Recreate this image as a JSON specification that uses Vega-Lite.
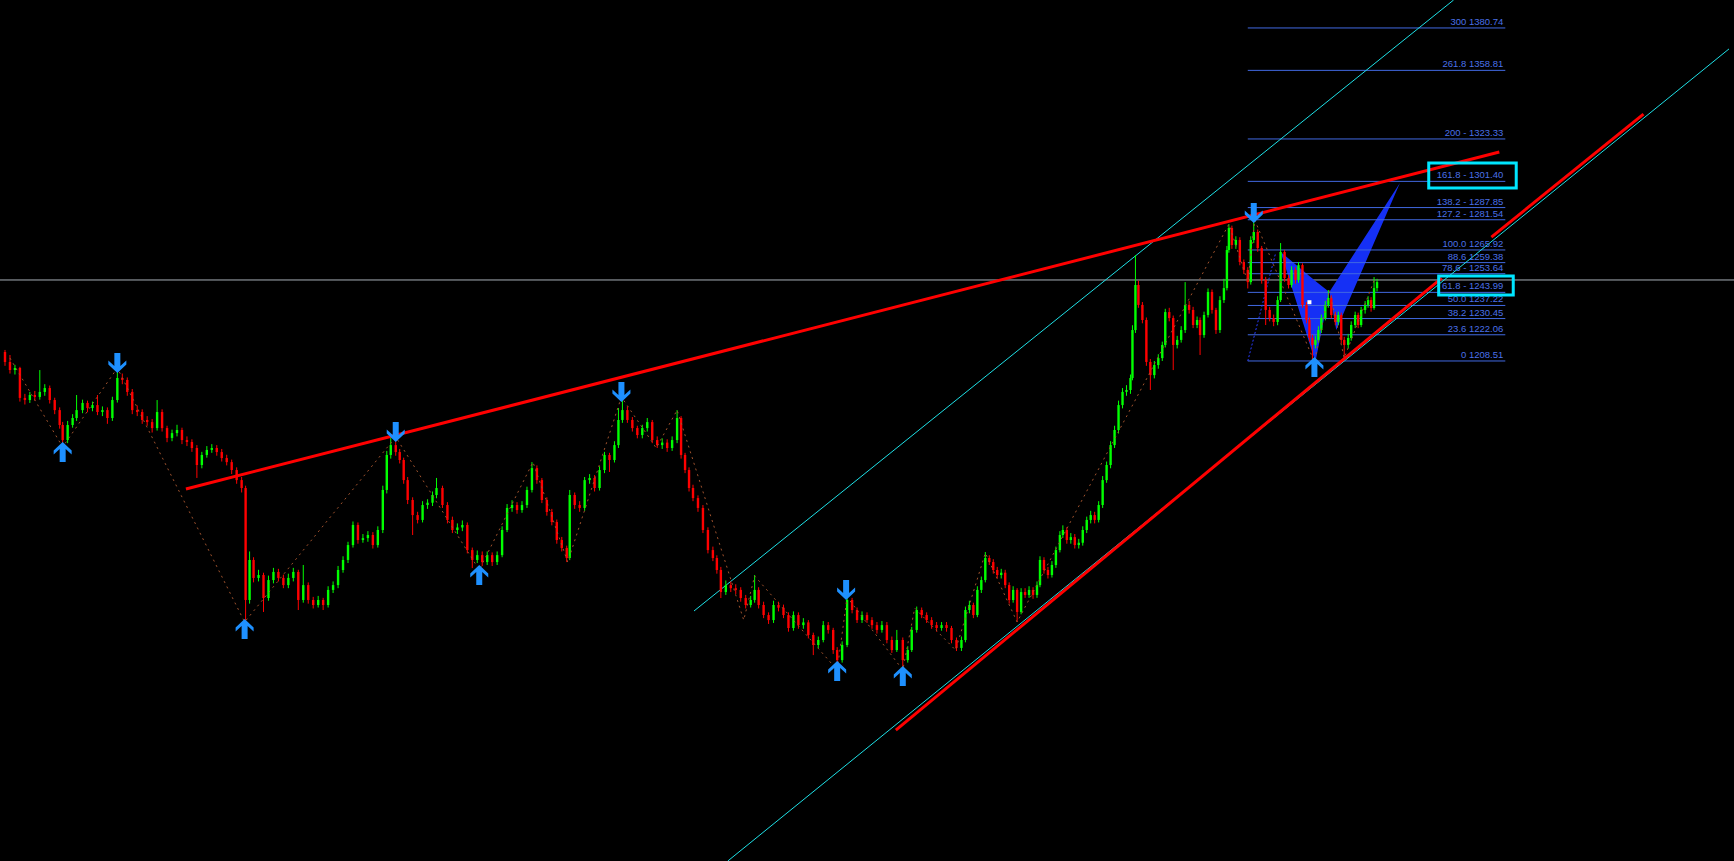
{
"$schema":"https://vega.github.io/schema/vega-lite/v6.json",
"width":1734,"height":861,
"autosize":{"type":"none"},
"padding":0,
"background":"#000000",
"config":{"view":{"stroke":null},"axis":{"disable":true},"mark":{"clip":true}},
"datasets":{
"cd":[
{"t":0,"o":1213.2,"h":1214.2,"l":1206.0,"c":1208.0},
{"t":5,"o":1208.0,"h":1211.6,"l":1202.0,"c":1203.8},
{"t":10,"o":1203.8,"h":1206.5,"l":1201.5,"c":1204.9},
{"t":15,"o":1204.9,"h":1205.5,"l":1187.5,"c":1189.4},
{"t":20,"o":1189.4,"h":1191.5,"l":1186.0,"c":1188.3},
{"t":25,"o":1188.3,"h":1192.5,"l":1186.8,"c":1190.9},
{"t":30,"o":1190.9,"h":1193.0,"l":1188.0,"c":1189.9},
{"t":35,"o":1189.9,"h":1203.8,"l":1188.5,"c":1192.5},
{"t":40,"o":1192.5,"h":1196.5,"l":1190.5,"c":1194.5},
{"t":45,"o":1194.5,"h":1195.8,"l":1186.5,"c":1188.3},
{"t":50,"o":1188.3,"h":1189.5,"l":1181.0,"c":1183.1},
{"t":55,"o":1183.1,"h":1184.5,"l":1173.5,"c":1175.4},
{"t":58,"o":1175.4,"h":1177.0,"l":1164.0,"c":1167.6},
{"t":63,"o":1167.6,"h":1177.5,"l":1166.0,"c":1175.4},
{"t":68,"o":1175.4,"h":1181.0,"l":1174.0,"c":1179.0},
{"t":72,"o":1179.0,"h":1190.9,"l":1177.5,"c":1183.1},
{"t":78,"o":1183.1,"h":1188.5,"l":1181.5,"c":1186.8},
{"t":83,"o":1186.8,"h":1188.0,"l":1182.0,"c":1184.2},
{"t":88,"o":1184.2,"h":1187.5,"l":1182.5,"c":1185.7},
{"t":93,"o":1185.7,"h":1190.9,"l":1180.5,"c":1182.1},
{"t":98,"o":1182.1,"h":1185.0,"l":1180.0,"c":1183.1},
{"t":103,"o":1183.1,"h":1184.5,"l":1176.0,"c":1179.0},
{"t":108,"o":1179.0,"h":1190.0,"l":1177.5,"c":1188.3},
{"t":113,"o":1188.3,"h":1204.9,"l":1187.0,"c":1199.7},
{"t":118,"o":1199.7,"h":1202.0,"l":1196.5,"c":1198.7},
{"t":123,"o":1198.7,"h":1200.0,"l":1190.5,"c":1192.5},
{"t":128,"o":1192.5,"h":1194.0,"l":1181.0,"c":1183.1},
{"t":133,"o":1183.1,"h":1185.5,"l":1180.0,"c":1182.1},
{"t":138,"o":1182.1,"h":1183.5,"l":1176.0,"c":1178.0},
{"t":143,"o":1178.0,"h":1180.0,"l":1175.0,"c":1176.9},
{"t":148,"o":1176.9,"h":1178.5,"l":1171.5,"c":1173.8},
{"t":153,"o":1173.8,"h":1188.3,"l":1172.5,"c":1182.1},
{"t":158,"o":1182.1,"h":1183.5,"l":1172.0,"c":1173.8},
{"t":163,"o":1173.8,"h":1175.0,"l":1166.5,"c":1168.7},
{"t":168,"o":1168.7,"h":1173.0,"l":1167.0,"c":1171.2},
{"t":173,"o":1171.2,"h":1175.5,"l":1169.5,"c":1172.8},
{"t":178,"o":1172.8,"h":1174.0,"l":1165.5,"c":1167.6},
{"t":183,"o":1167.6,"h":1169.5,"l":1164.5,"c":1166.6},
{"t":188,"o":1166.6,"h":1168.0,"l":1161.5,"c":1163.5},
{"t":193,"o":1163.5,"h":1165.0,"l":1148.0,"c":1154.7},
{"t":198,"o":1154.7,"h":1161.5,"l":1153.0,"c":1159.9},
{"t":203,"o":1159.9,"h":1164.5,"l":1158.5,"c":1162.5},
{"t":208,"o":1162.5,"h":1165.5,"l":1161.0,"c":1163.5},
{"t":213,"o":1163.5,"h":1165.0,"l":1159.5,"c":1161.4},
{"t":218,"o":1161.4,"h":1163.0,"l":1156.5,"c":1158.3},
{"t":223,"o":1158.3,"h":1160.0,"l":1154.5,"c":1156.2},
{"t":228,"o":1156.2,"h":1157.5,"l":1150.0,"c":1152.1},
{"t":233,"o":1152.1,"h":1153.5,"l":1145.0,"c":1146.9},
{"t":238,"o":1146.9,"h":1148.5,"l":1140.5,"c":1142.8},
{"t":242,"o":1142.8,"h":1144.0,"l":1073.5,"c":1084.9},
{"t":246,"o":1084.9,"h":1110.0,"l":1083.0,"c":1105.6},
{"t":250,"o":1105.6,"h":1107.0,"l":1094.0,"c":1096.3},
{"t":255,"o":1096.3,"h":1100.5,"l":1094.5,"c":1097.8},
{"t":260,"o":1097.8,"h":1099.0,"l":1078.7,"c":1085.9},
{"t":265,"o":1085.9,"h":1097.5,"l":1084.5,"c":1095.2},
{"t":270,"o":1095.2,"h":1101.5,"l":1093.5,"c":1099.4},
{"t":275,"o":1099.4,"h":1101.0,"l":1094.5,"c":1096.3},
{"t":280,"o":1096.3,"h":1098.0,"l":1091.0,"c":1092.6},
{"t":285,"o":1092.6,"h":1098.5,"l":1091.0,"c":1096.3},
{"t":290,"o":1096.3,"h":1101.5,"l":1094.5,"c":1099.4},
{"t":295,"o":1099.4,"h":1100.5,"l":1079.7,"c":1084.9},
{"t":300,"o":1084.9,"h":1103.0,"l":1083.5,"c":1092.6},
{"t":305,"o":1092.6,"h":1094.0,"l":1083.0,"c":1084.9},
{"t":310,"o":1084.9,"h":1086.5,"l":1080.5,"c":1082.3},
{"t":315,"o":1082.3,"h":1087.0,"l":1081.0,"c":1084.9},
{"t":320,"o":1084.9,"h":1086.0,"l":1079.7,"c":1082.3},
{"t":325,"o":1082.3,"h":1092.0,"l":1081.0,"c":1090.1},
{"t":330,"o":1090.1,"h":1094.5,"l":1088.5,"c":1092.6},
{"t":335,"o":1092.6,"h":1102.5,"l":1091.0,"c":1100.4},
{"t":340,"o":1100.4,"h":1107.5,"l":1099.0,"c":1105.6},
{"t":345,"o":1105.6,"h":1115.0,"l":1104.0,"c":1113.3},
{"t":350,"o":1113.3,"h":1125.5,"l":1112.0,"c":1123.7},
{"t":355,"o":1123.7,"h":1125.0,"l":1114.0,"c":1115.9},
{"t":360,"o":1115.9,"h":1119.0,"l":1114.5,"c":1116.9},
{"t":365,"o":1116.9,"h":1120.5,"l":1115.0,"c":1118.5},
{"t":370,"o":1118.5,"h":1120.0,"l":1111.5,"c":1113.3},
{"t":375,"o":1113.3,"h":1123.0,"l":1112.0,"c":1121.1},
{"t":380,"o":1121.1,"h":1144.0,"l":1119.5,"c":1141.8},
{"t":384,"o":1141.8,"h":1162.0,"l":1140.0,"c":1159.9},
{"t":388,"o":1159.9,"h":1169.2,"l":1158.0,"c":1165.0},
{"t":393,"o":1165.0,"h":1167.0,"l":1159.5,"c":1161.4},
{"t":397,"o":1161.4,"h":1163.0,"l":1155.5,"c":1157.3},
{"t":401,"o":1157.3,"h":1158.5,"l":1145.0,"c":1146.9},
{"t":405,"o":1146.9,"h":1148.5,"l":1134.5,"c":1136.6},
{"t":410,"o":1136.6,"h":1138.0,"l":1118.5,"c":1128.8},
{"t":415,"o":1128.8,"h":1130.5,"l":1124.5,"c":1126.3},
{"t":420,"o":1126.3,"h":1136.0,"l":1125.0,"c":1134.0},
{"t":425,"o":1134.0,"h":1137.0,"l":1132.0,"c":1135.2},
{"t":430,"o":1135.2,"h":1141.0,"l":1133.5,"c":1139.2},
{"t":434,"o":1139.2,"h":1148.0,"l":1137.5,"c":1142.8},
{"t":440,"o":1142.8,"h":1144.0,"l":1132.5,"c":1134.0},
{"t":445,"o":1134.0,"h":1135.5,"l":1124.5,"c":1126.3},
{"t":450,"o":1126.3,"h":1128.0,"l":1119.5,"c":1121.1},
{"t":455,"o":1121.1,"h":1124.5,"l":1119.0,"c":1122.4},
{"t":460,"o":1122.4,"h":1126.0,"l":1120.5,"c":1123.7},
{"t":465,"o":1123.7,"h":1125.0,"l":1109.0,"c":1110.7},
{"t":470,"o":1110.7,"h":1112.0,"l":1101.4,"c":1105.6},
{"t":475,"o":1105.6,"h":1110.5,"l":1104.0,"c":1108.1},
{"t":480,"o":1108.1,"h":1110.0,"l":1102.5,"c":1104.5},
{"t":485,"o":1104.5,"h":1110.0,"l":1103.0,"c":1108.1},
{"t":490,"o":1108.1,"h":1109.5,"l":1102.5,"c":1104.5},
{"t":495,"o":1104.5,"h":1110.0,"l":1103.0,"c":1108.1},
{"t":500,"o":1108.1,"h":1123.0,"l":1107.0,"c":1121.1},
{"t":505,"o":1121.1,"h":1134.5,"l":1120.0,"c":1132.5},
{"t":510,"o":1132.5,"h":1136.5,"l":1130.5,"c":1134.0},
{"t":515,"o":1134.0,"h":1135.5,"l":1129.5,"c":1131.4},
{"t":520,"o":1131.4,"h":1136.0,"l":1130.0,"c":1134.0},
{"t":525,"o":1134.0,"h":1143.5,"l":1132.5,"c":1141.8},
{"t":530,"o":1141.8,"h":1156.2,"l":1140.5,"c":1153.1},
{"t":535,"o":1153.1,"h":1154.5,"l":1145.0,"c":1146.9},
{"t":540,"o":1146.9,"h":1148.0,"l":1135.0,"c":1136.6},
{"t":545,"o":1136.6,"h":1138.0,"l":1128.5,"c":1130.4},
{"t":550,"o":1130.4,"h":1132.0,"l":1123.5,"c":1125.2},
{"t":555,"o":1125.2,"h":1126.5,"l":1114.0,"c":1115.9},
{"t":560,"o":1115.9,"h":1117.5,"l":1110.0,"c":1111.8},
{"t":565,"o":1111.8,"h":1113.0,"l":1104.5,"c":1106.6},
{"t":568,"o":1106.6,"h":1141.8,"l":1105.5,"c":1139.2},
{"t":573,"o":1139.2,"h":1140.5,"l":1132.0,"c":1134.0},
{"t":578,"o":1134.0,"h":1136.0,"l":1130.5,"c":1132.5},
{"t":583,"o":1132.5,"h":1148.5,"l":1131.0,"c":1146.9},
{"t":588,"o":1146.9,"h":1150.0,"l":1145.0,"c":1148.0},
{"t":593,"o":1148.0,"h":1149.5,"l":1141.0,"c":1142.8},
{"t":598,"o":1142.8,"h":1154.0,"l":1141.5,"c":1152.1},
{"t":603,"o":1152.1,"h":1161.5,"l":1150.5,"c":1159.9},
{"t":608,"o":1159.9,"h":1161.0,"l":1151.1,"c":1157.3},
{"t":613,"o":1157.3,"h":1167.0,"l":1156.0,"c":1165.0},
{"t":617,"o":1165.0,"h":1184.2,"l":1163.5,"c":1178.0},
{"t":621,"o":1178.0,"h":1189.4,"l":1176.5,"c":1183.1},
{"t":626,"o":1183.1,"h":1185.0,"l":1176.5,"c":1178.0},
{"t":631,"o":1178.0,"h":1179.5,"l":1172.0,"c":1173.8},
{"t":636,"o":1173.8,"h":1175.0,"l":1168.5,"c":1170.2},
{"t":641,"o":1170.2,"h":1175.5,"l":1168.5,"c":1173.8},
{"t":646,"o":1173.8,"h":1179.0,"l":1172.0,"c":1176.9},
{"t":651,"o":1176.9,"h":1178.0,"l":1166.0,"c":1167.6},
{"t":656,"o":1167.6,"h":1169.5,"l":1163.5,"c":1165.0},
{"t":661,"o":1165.0,"h":1168.5,"l":1163.0,"c":1166.3},
{"t":666,"o":1166.3,"h":1168.0,"l":1161.5,"c":1163.5},
{"t":671,"o":1163.5,"h":1169.5,"l":1162.0,"c":1167.6},
{"t":676,"o":1167.6,"h":1183.1,"l":1166.0,"c":1179.0},
{"t":680,"o":1179.0,"h":1180.0,"l":1158.0,"c":1159.9},
{"t":684,"o":1159.9,"h":1161.0,"l":1150.5,"c":1152.1},
{"t":688,"o":1152.1,"h":1153.5,"l":1141.0,"c":1142.8},
{"t":692,"o":1142.8,"h":1144.5,"l":1136.0,"c":1137.6},
{"t":697,"o":1137.6,"h":1139.0,"l":1130.5,"c":1132.5},
{"t":702,"o":1132.5,"h":1134.0,"l":1119.5,"c":1121.1},
{"t":707,"o":1121.1,"h":1122.5,"l":1109.0,"c":1110.7},
{"t":712,"o":1110.7,"h":1112.5,"l":1105.0,"c":1106.6},
{"t":716,"o":1106.6,"h":1108.0,"l":1098.5,"c":1100.4},
{"t":720,"o":1100.4,"h":1102.0,"l":1085.9,"c":1089.0},
{"t":725,"o":1089.0,"h":1095.0,"l":1087.5,"c":1092.6},
{"t":730,"o":1092.6,"h":1094.5,"l":1089.0,"c":1091.0},
{"t":735,"o":1091.0,"h":1093.0,"l":1088.0,"c":1090.1},
{"t":740,"o":1090.1,"h":1091.5,"l":1084.0,"c":1085.9},
{"t":745,"o":1085.9,"h":1087.5,"l":1080.5,"c":1082.3},
{"t":750,"o":1082.3,"h":1087.0,"l":1081.0,"c":1084.9},
{"t":754,"o":1084.9,"h":1097.8,"l":1083.5,"c":1090.1},
{"t":758,"o":1090.1,"h":1091.5,"l":1080.5,"c":1082.3},
{"t":763,"o":1082.3,"h":1084.0,"l":1075.5,"c":1077.1},
{"t":768,"o":1077.1,"h":1078.5,"l":1072.5,"c":1074.5},
{"t":773,"o":1074.5,"h":1084.5,"l":1073.0,"c":1082.3},
{"t":778,"o":1082.3,"h":1084.0,"l":1079.0,"c":1080.9},
{"t":783,"o":1080.9,"h":1082.5,"l":1075.5,"c":1077.1},
{"t":788,"o":1077.1,"h":1078.5,"l":1068.5,"c":1070.4},
{"t":793,"o":1070.4,"h":1079.0,"l":1069.0,"c":1077.1},
{"t":798,"o":1077.1,"h":1078.5,"l":1070.0,"c":1071.9},
{"t":803,"o":1071.9,"h":1075.5,"l":1070.0,"c":1073.3},
{"t":808,"o":1073.3,"h":1074.5,"l":1065.0,"c":1066.8},
{"t":813,"o":1066.8,"h":1068.0,"l":1056.4,"c":1061.6},
{"t":818,"o":1061.6,"h":1066.0,"l":1060.0,"c":1064.2},
{"t":823,"o":1064.2,"h":1074.0,"l":1063.0,"c":1071.9},
{"t":828,"o":1071.9,"h":1073.5,"l":1067.5,"c":1069.4},
{"t":833,"o":1069.4,"h":1070.5,"l":1057.0,"c":1059.0},
{"t":837,"o":1059.0,"h":1060.5,"l":1049.7,"c":1053.8},
{"t":842,"o":1053.8,"h":1063.5,"l":1052.5,"c":1061.6},
{"t":847,"o":1061.6,"h":1087.5,"l":1060.5,"c":1084.9},
{"t":852,"o":1084.9,"h":1086.0,"l":1078.0,"c":1079.7},
{"t":857,"o":1079.7,"h":1081.0,"l":1073.0,"c":1074.5},
{"t":862,"o":1074.5,"h":1079.0,"l":1073.0,"c":1077.1},
{"t":867,"o":1077.1,"h":1078.5,"l":1073.0,"c":1074.5},
{"t":872,"o":1074.5,"h":1076.0,"l":1070.0,"c":1071.9},
{"t":877,"o":1071.9,"h":1073.5,"l":1067.5,"c":1069.4},
{"t":882,"o":1069.4,"h":1074.0,"l":1068.0,"c":1071.9},
{"t":887,"o":1071.9,"h":1073.5,"l":1062.5,"c":1064.2},
{"t":892,"o":1064.2,"h":1066.0,"l":1057.5,"c":1059.0},
{"t":897,"o":1059.0,"h":1069.4,"l":1058.0,"c":1064.2},
{"t":903,"o":1064.2,"h":1065.5,"l":1049.7,"c":1053.8},
{"t":908,"o":1053.8,"h":1061.0,"l":1052.5,"c":1059.0},
{"t":912,"o":1059.0,"h":1071.0,"l":1058.0,"c":1069.4},
{"t":917,"o":1069.4,"h":1081.5,"l":1068.0,"c":1079.7},
{"t":922,"o":1079.7,"h":1081.0,"l":1075.5,"c":1077.1},
{"t":927,"o":1077.1,"h":1078.5,"l":1073.0,"c":1074.5},
{"t":932,"o":1074.5,"h":1076.0,"l":1070.0,"c":1071.9},
{"t":937,"o":1071.9,"h":1073.5,"l":1068.5,"c":1070.4},
{"t":942,"o":1070.4,"h":1073.5,"l":1069.0,"c":1071.9},
{"t":947,"o":1071.9,"h":1073.5,"l":1068.5,"c":1070.4},
{"t":952,"o":1070.4,"h":1071.5,"l":1062.5,"c":1064.2},
{"t":957,"o":1064.2,"h":1065.5,"l":1058.5,"c":1060.1},
{"t":962,"o":1060.1,"h":1066.0,"l":1058.5,"c":1064.2},
{"t":966,"o":1064.2,"h":1081.5,"l":1063.0,"c":1079.7},
{"t":970,"o":1079.7,"h":1084.5,"l":1078.0,"c":1082.3},
{"t":974,"o":1082.3,"h":1083.5,"l":1075.5,"c":1077.1},
{"t":978,"o":1077.1,"h":1092.0,"l":1076.0,"c":1090.1},
{"t":982,"o":1090.1,"h":1097.0,"l":1088.5,"c":1095.2},
{"t":986,"o":1095.2,"h":1109.7,"l":1094.0,"c":1106.6},
{"t":990,"o":1106.6,"h":1108.0,"l":1103.0,"c":1104.5},
{"t":994,"o":1104.5,"h":1106.0,"l":1098.5,"c":1100.4},
{"t":998,"o":1100.4,"h":1102.0,"l":1096.0,"c":1097.8},
{"t":1002,"o":1097.8,"h":1101.0,"l":1096.0,"c":1099.0},
{"t":1006,"o":1099.0,"h":1100.5,"l":1091.0,"c":1092.6},
{"t":1010,"o":1092.6,"h":1094.0,"l":1083.0,"c":1084.9},
{"t":1014,"o":1084.9,"h":1092.0,"l":1083.5,"c":1090.1},
{"t":1018,"o":1090.1,"h":1091.0,"l":1073.5,"c":1078.7},
{"t":1022,"o":1078.7,"h":1091.0,"l":1077.5,"c":1089.0},
{"t":1026,"o":1089.0,"h":1091.0,"l":1086.0,"c":1087.5},
{"t":1030,"o":1087.5,"h":1092.0,"l":1086.0,"c":1090.1},
{"t":1034,"o":1090.1,"h":1091.5,"l":1085.5,"c":1087.5},
{"t":1038,"o":1087.5,"h":1094.5,"l":1086.0,"c":1092.6},
{"t":1041,"o":1092.6,"h":1107.5,"l":1091.5,"c":1105.6},
{"t":1045,"o":1105.6,"h":1107.0,"l":1098.5,"c":1100.4},
{"t":1049,"o":1100.4,"h":1102.0,"l":1096.0,"c":1097.8},
{"t":1053,"o":1097.8,"h":1105.0,"l":1096.5,"c":1103.0},
{"t":1057,"o":1103.0,"h":1112.5,"l":1101.5,"c":1110.7},
{"t":1061,"o":1110.7,"h":1120.5,"l":1109.5,"c":1118.5},
{"t":1064,"o":1118.5,"h":1123.5,"l":1117.0,"c":1121.1},
{"t":1068,"o":1121.1,"h":1122.5,"l":1114.0,"c":1115.9},
{"t":1072,"o":1115.9,"h":1119.5,"l":1114.0,"c":1117.4},
{"t":1076,"o":1117.4,"h":1119.0,"l":1111.5,"c":1113.3},
{"t":1080,"o":1113.3,"h":1116.5,"l":1111.5,"c":1114.5},
{"t":1084,"o":1114.5,"h":1123.0,"l":1113.0,"c":1121.1},
{"t":1088,"o":1121.1,"h":1128.0,"l":1119.5,"c":1126.3},
{"t":1092,"o":1126.3,"h":1131.0,"l":1124.5,"c":1128.8},
{"t":1096,"o":1128.8,"h":1130.5,"l":1124.5,"c":1126.3},
{"t":1100,"o":1126.3,"h":1136.0,"l":1125.0,"c":1134.0},
{"t":1104,"o":1134.0,"h":1149.0,"l":1132.5,"c":1146.9},
{"t":1108,"o":1146.9,"h":1156.5,"l":1145.5,"c":1154.7},
{"t":1112,"o":1154.7,"h":1167.0,"l":1153.0,"c":1165.0},
{"t":1116,"o":1165.0,"h":1175.0,"l":1163.5,"c":1172.8},
{"t":1120,"o":1172.8,"h":1188.0,"l":1171.0,"c":1185.7},
{"t":1124,"o":1185.7,"h":1194.5,"l":1184.0,"c":1192.5},
{"t":1128,"o":1192.5,"h":1196.0,"l":1190.5,"c":1193.5},
{"t":1132,"o":1193.5,"h":1201.5,"l":1191.5,"c":1199.7},
{"t":1134,"o":1199.7,"h":1227.0,"l":1198.5,"c":1224.5},
{"t":1137,"o":1224.5,"h":1263.3,"l":1223.0,"c":1247.8},
{"t":1140,"o":1247.8,"h":1250.0,"l":1236.0,"c":1237.5},
{"t":1144,"o":1237.5,"h":1239.0,"l":1228.0,"c":1229.7},
{"t":1148,"o":1229.7,"h":1231.0,"l":1206.0,"c":1208.0},
{"t":1152,"o":1208.0,"h":1209.5,"l":1193.5,"c":1201.2},
{"t":1156,"o":1201.2,"h":1208.5,"l":1199.5,"c":1206.4},
{"t":1160,"o":1206.4,"h":1212.0,"l":1204.5,"c":1210.0},
{"t":1164,"o":1210.0,"h":1218.5,"l":1208.5,"c":1216.8},
{"t":1167,"o":1216.8,"h":1235.5,"l":1215.5,"c":1233.8},
{"t":1171,"o":1233.8,"h":1236.0,"l":1229.0,"c":1230.7},
{"t":1175,"o":1230.7,"h":1232.0,"l":1203.8,"c":1216.8},
{"t":1179,"o":1216.8,"h":1221.5,"l":1215.0,"c":1219.4},
{"t":1183,"o":1219.4,"h":1226.5,"l":1218.0,"c":1224.5},
{"t":1187,"o":1224.5,"h":1249.3,"l":1223.0,"c":1237.5},
{"t":1191,"o":1237.5,"h":1239.5,"l":1233.0,"c":1234.9},
{"t":1195,"o":1234.9,"h":1236.5,"l":1225.5,"c":1227.1},
{"t":1199,"o":1227.1,"h":1231.5,"l":1225.5,"c":1229.7},
{"t":1202,"o":1229.7,"h":1231.0,"l":1211.6,"c":1221.9},
{"t":1206,"o":1221.9,"h":1234.0,"l":1220.5,"c":1232.3},
{"t":1210,"o":1232.3,"h":1246.0,"l":1231.0,"c":1244.2},
{"t":1214,"o":1244.2,"h":1245.5,"l":1233.0,"c":1234.9},
{"t":1218,"o":1234.9,"h":1236.0,"l":1222.5,"c":1224.5},
{"t":1222,"o":1224.5,"h":1242.0,"l":1223.0,"c":1240.0},
{"t":1226,"o":1240.0,"h":1251.0,"l":1238.5,"c":1246.2},
{"t":1229,"o":1246.2,"h":1268.0,"l":1245.0,"c":1265.9},
{"t":1231,"o":1265.9,"h":1279.3,"l":1264.5,"c":1277.3},
{"t":1234,"o":1277.3,"h":1278.5,"l":1266.5,"c":1268.5},
{"t":1238,"o":1268.5,"h":1273.0,"l":1266.5,"c":1271.1},
{"t":1242,"o":1271.1,"h":1272.5,"l":1258.0,"c":1259.7},
{"t":1246,"o":1259.7,"h":1261.0,"l":1253.5,"c":1255.6},
{"t":1250,"o":1255.6,"h":1257.0,"l":1246.0,"c":1249.3},
{"t":1253,"o":1249.3,"h":1273.0,"l":1248.0,"c":1271.1},
{"t":1256,"o":1271.1,"h":1281.4,"l":1269.5,"c":1275.2},
{"t":1260,"o":1275.2,"h":1276.5,"l":1265.0,"c":1266.9},
{"t":1264,"o":1266.9,"h":1268.0,"l":1248.5,"c":1250.4},
{"t":1268,"o":1250.4,"h":1252.0,"l":1227.1,"c":1234.9},
{"t":1272,"o":1234.9,"h":1236.5,"l":1229.0,"c":1230.7},
{"t":1276,"o":1230.7,"h":1232.5,"l":1226.5,"c":1228.7},
{"t":1280,"o":1228.7,"h":1242.0,"l":1227.0,"c":1240.0},
{"t":1283,"o":1240.0,"h":1269.5,"l":1239.0,"c":1264.9},
{"t":1287,"o":1264.9,"h":1266.0,"l":1249.5,"c":1251.4},
{"t":1291,"o":1251.4,"h":1253.0,"l":1246.0,"c":1247.8},
{"t":1294,"o":1247.8,"h":1257.5,"l":1246.5,"c":1255.6},
{"t":1298,"o":1255.6,"h":1257.0,"l":1248.5,"c":1250.4},
{"t":1301,"o":1250.4,"h":1259.7,"l":1249.0,"c":1258.1},
{"t":1305,"o":1258.1,"h":1259.0,"l":1236.0,"c":1237.5},
{"t":1309,"o":1237.5,"h":1239.0,"l":1228.0,"c":1229.7},
{"t":1312,"o":1229.7,"h":1231.0,"l":1218.5,"c":1220.4},
{"t":1315,"o":1220.4,"h":1222.0,"l":1209.0,"c":1216.8},
{"t":1318,"o":1216.8,"h":1221.5,"l":1215.0,"c":1219.4},
{"t":1321,"o":1219.4,"h":1226.5,"l":1218.0,"c":1224.5},
{"t":1324,"o":1224.5,"h":1232.5,"l":1223.0,"c":1230.7},
{"t":1328,"o":1230.7,"h":1239.5,"l":1229.5,"c":1237.5},
{"t":1331,"o":1237.5,"h":1245.2,"l":1236.0,"c":1241.1},
{"t":1334,"o":1241.1,"h":1242.5,"l":1230.5,"c":1232.3},
{"t":1338,"o":1232.3,"h":1234.0,"l":1227.0,"c":1228.7},
{"t":1341,"o":1228.7,"h":1234.0,"l":1227.0,"c":1232.3},
{"t":1344,"o":1232.3,"h":1233.5,"l":1217.5,"c":1219.4},
{"t":1347,"o":1219.4,"h":1221.0,"l":1210.0,"c":1216.8},
{"t":1351,"o":1216.8,"h":1222.5,"l":1215.0,"c":1220.4},
{"t":1354,"o":1220.4,"h":1229.0,"l":1219.0,"c":1227.1},
{"t":1358,"o":1227.1,"h":1234.0,"l":1225.5,"c":1232.3},
{"t":1361,"o":1232.3,"h":1233.5,"l":1225.5,"c":1227.1},
{"t":1364,"o":1227.1,"h":1236.5,"l":1226.0,"c":1234.9},
{"t":1368,"o":1234.9,"h":1239.5,"l":1233.0,"c":1237.5},
{"t":1371,"o":1237.5,"h":1242.0,"l":1236.0,"c":1240.0},
{"t":1374,"o":1240.0,"h":1241.5,"l":1234.0,"c":1235.9},
{"t":1377,"o":1235.9,"h":1251.9,"l":1235.0,"c":1246.2},
{"t":1380,"o":1246.2,"h":1251.0,"l":1244.5,"c":1249.3}
],
"fib":[
{"p":1380.74,"lab":"300 1380.74"},
{"p":1358.81,"lab":"261.8 1358.81"},
{"p":1323.33,"lab":"200 - 1323.33"},
{"p":1301.40,"lab":"161.8 -  1301.40"},
{"p":1287.85,"lab":"138.2 - 1287.85"},
{"p":1281.54,"lab":"127.2 - 1281.54"},
{"p":1265.92,"lab":"100.0 1265.92"},
{"p":1259.38,"lab":"88.6 1259.38"},
{"p":1253.64,"lab":"78.6 - 1253.64"},
{"p":1243.99,"lab":"61.8 - 1243.99"},
{"p":1237.22,"lab":"50.0 1237.22"},
{"p":1230.45,"lab":"38.2 1230.45"},
{"p":1222.06,"lab":"23.6 1222.06"},
{"p":1208.51,"lab":"0 1208.51"}
],
"cyan":[
{"t":693,"p":1079.2,"t2":1457,"p2":1395.2},
{"t":727,"p":949.9,"t2":1734,"p2":1369.9}
],
"red":[
{"t":182,"p":1142.3,"t2":1503,"p2":1316.6},
{"t":896,"p":1017.6,"t2":1445,"p2":1251.4},
{"t":1495,"p":1272.6,"t2":1648,"p2":1336.2}
],
"zz":[
{"t":5,"p":1210.0},{"t":58,"p":1164.0},{"t":113,"p":1204.9},{"t":241,"p":1073.5},
{"t":393,"p":1169.2},{"t":477,"p":1100.4},{"t":531,"p":1156.2},{"t":566,"p":1104.5},
{"t":620,"p":1189.9},{"t":655,"p":1163.5},{"t":676,"p":1183.1},{"t":743,"p":1074.5},
{"t":754,"p":1097.3},{"t":837,"p":1048.7},{"t":847,"p":1086.4},{"t":903,"p":1048.7},
{"t":915,"p":1080.7},{"t":956,"p":1059.0},{"t":986,"p":1109.2},{"t":1018,"p":1073.5},
{"t":1231,"p":1279.3},{"t":1250,"p":1249.3},{"t":1257,"p":1281.4},{"t":1317,"p":1208.0},
{"t":1332,"p":1245.2},{"t":1347,"p":1210.0},{"t":1378,"p":1251.4}
],
"fb":[{"t":1250,"p":1208.5,"t2":1278,"p2":1264.3}],
"tri":[
{"g":"XAB","t":1283,"p":1264.9,"p2":1264.9},
{"g":"XAB","t":1318,"p":1249.9,"p2":1208.0},
{"g":"XAB","t":1332,"p":1244.2,"p2":1244.2},
{"g":"BCD","t":1332,"p":1244.2,"p2":1244.2},
{"g":"BCD","t":1339,"p":1249.7,"p2":1224.5},
{"g":"BCD","t":1403,"p":1300.6,"p2":1300.6}
],
"box":[
{"t":1432,"t2":1520,"p":1310.9,"p2":1298.0},
{"t":1442,"t2":1517,"p":1252.5,"p2":1242.6}
],
"up":[
{"t":58,"p":1161.4},{"t":241,"p":1069.9},{"t":477,"p":1097.8},
{"t":837,"p":1048.2},{"t":903,"p":1045.6},{"t":1317,"p":1205.4}
],
"dn":[
{"t":113,"p":1207.5},{"t":393,"p":1171.8},{"t":620,"p":1192.5},
{"t":846,"p":1090.1},{"t":1256,"p":1285.0}
]
},
"layer":[
{"data":{"values":[{"p":1250.4}]},"mark":{"type":"rule","color":"#A7AEB6","strokeWidth":1},
 "encoding":{"y":{"field":"p","type":"quantitative","scale":{"domain":[949.9,1395.2],"nice":false,"zero":false}}}},
{"data":{"name":"tri"},"mark":{"type":"area","color":"#1530F5","opacity":1},
 "encoding":{"x":{"field":"t","type":"quantitative","scale":{"domain":[0,1734],"nice":false,"zero":false}},
  "y":{"field":"p","type":"quantitative","scale":{"domain":[949.9,1395.2],"nice":false,"zero":false}},
  "y2":{"field":"p2"},"detail":{"field":"g"}}},
{"data":{"name":"fib"},"mark":{"type":"rule","color":"#4169E1","strokeWidth":1},
 "encoding":{"x":{"datum":1250,"type":"quantitative","scale":{"domain":[0,1734],"nice":false,"zero":false}},"x2":{"datum":1509},
  "y":{"field":"p","type":"quantitative","scale":{"domain":[949.9,1395.2],"nice":false,"zero":false}}}},
{"data":{"name":"fb"},"mark":{"type":"rule","color":"#2A3CFF","strokeWidth":1,"strokeDash":[2,2]},
 "encoding":{"x":{"field":"t","type":"quantitative","scale":{"domain":[0,1734],"nice":false,"zero":false}},"x2":{"field":"t2"},
  "y":{"field":"p","type":"quantitative","scale":{"domain":[949.9,1395.2],"nice":false,"zero":false}},"y2":{"field":"p2"}}},
{"data":{"name":"cyan"},"mark":{"type":"rule","color":"#1EE0E6","strokeWidth":1},
 "encoding":{"x":{"field":"t","type":"quantitative","scale":{"domain":[0,1734],"nice":false,"zero":false}},"x2":{"field":"t2"},
  "y":{"field":"p","type":"quantitative","scale":{"domain":[949.9,1395.2],"nice":false,"zero":false}},"y2":{"field":"p2"}}},
{"data":{"name":"cd"},"mark":{"type":"rule","strokeWidth":1},
 "encoding":{"x":{"field":"t","type":"quantitative","scale":{"domain":[0,1734],"nice":false,"zero":false}},
  "y":{"field":"l","type":"quantitative","scale":{"domain":[949.9,1395.2],"nice":false,"zero":false}},"y2":{"field":"h"},
  "color":{"condition":{"test":"datum.c >= datum.o","value":"#00FF00"},"value":"#FF0000"}}},
{"data":{"name":"cd"},"mark":{"type":"bar","width":2.4},
 "encoding":{"x":{"field":"t","type":"quantitative","scale":{"domain":[0,1734],"nice":false,"zero":false}},
  "y":{"field":"o","type":"quantitative","scale":{"domain":[949.9,1395.2],"nice":false,"zero":false}},"y2":{"field":"c"},
  "color":{"condition":{"test":"datum.c >= datum.o","value":"#00FF00"},"value":"#FF0000"}}},
{"data":{"name":"zz"},"mark":{"type":"line","color":"#A0522D","strokeWidth":1,"strokeDash":[2,4]},
 "encoding":{"x":{"field":"t","type":"quantitative","scale":{"domain":[0,1734],"nice":false,"zero":false}},
  "y":{"field":"p","type":"quantitative","scale":{"domain":[949.9,1395.2],"nice":false,"zero":false}}}},
{"data":{"name":"red"},"mark":{"type":"rule","color":"#FF0000","strokeWidth":3},
 "encoding":{"x":{"field":"t","type":"quantitative","scale":{"domain":[0,1734],"nice":false,"zero":false}},"x2":{"field":"t2"},
  "y":{"field":"p","type":"quantitative","scale":{"domain":[949.9,1395.2],"nice":false,"zero":false}},"y2":{"field":"p2"}}},
{"data":{"name":"fib"},"mark":{"type":"text","align":"right","baseline":"bottom","dy":-1,"font":"Liberation Sans","fontSize":9.5,"color":"#4A70E8"},
 "encoding":{"x":{"datum":1507,"type":"quantitative","scale":{"domain":[0,1734],"nice":false,"zero":false}},
  "y":{"field":"p","type":"quantitative","scale":{"domain":[949.9,1395.2],"nice":false,"zero":false}},"text":{"field":"lab"}}},
{"data":{"name":"box"},"mark":{"type":"rect","filled":false,"stroke":"#00E5FF","strokeWidth":3},
 "encoding":{"x":{"field":"t","type":"quantitative","scale":{"domain":[0,1734],"nice":false,"zero":false}},"x2":{"field":"t2"},
  "y":{"field":"p","type":"quantitative","scale":{"domain":[949.9,1395.2],"nice":false,"zero":false}},"y2":{"field":"p2"}}},
{"data":{"name":"up"},"mark":{"type":"point","filled":true,"color":"#1E90FF","opacity":1,"size":400,"shape":"M0,-1L0.9,-0.15L0.9,0.25L0.3,-0.3L0.3,1L-0.3,1L-0.3,-0.3L-0.9,0.25L-0.9,-0.15Z"},
 "encoding":{"x":{"field":"t","type":"quantitative","scale":{"domain":[0,1734],"nice":false,"zero":false}},
  "y":{"field":"p","type":"quantitative","scale":{"domain":[949.9,1395.2],"nice":false,"zero":false}}}},
{"data":{"name":"dn"},"mark":{"type":"point","filled":true,"color":"#1E90FF","opacity":1,"size":400,"shape":"M0,1L0.9,0.15L0.9,-0.25L0.3,0.3L0.3,-1L-0.3,-1L-0.3,0.3L-0.9,-0.25L-0.9,0.15Z"},
 "encoding":{"x":{"field":"t","type":"quantitative","scale":{"domain":[0,1734],"nice":false,"zero":false}},
  "y":{"field":"p","type":"quantitative","scale":{"domain":[949.9,1395.2],"nice":false,"zero":false}}}},
{"data":{"values":[{"t":1312,"p":1238.9}]},"mark":{"type":"square","filled":true,"color":"#FFFFFF","size":16,"opacity":1},
 "encoding":{"x":{"field":"t","type":"quantitative","scale":{"domain":[0,1734],"nice":false,"zero":false}},
  "y":{"field":"p","type":"quantitative","scale":{"domain":[949.9,1395.2],"nice":false,"zero":false}}}}
]
}
